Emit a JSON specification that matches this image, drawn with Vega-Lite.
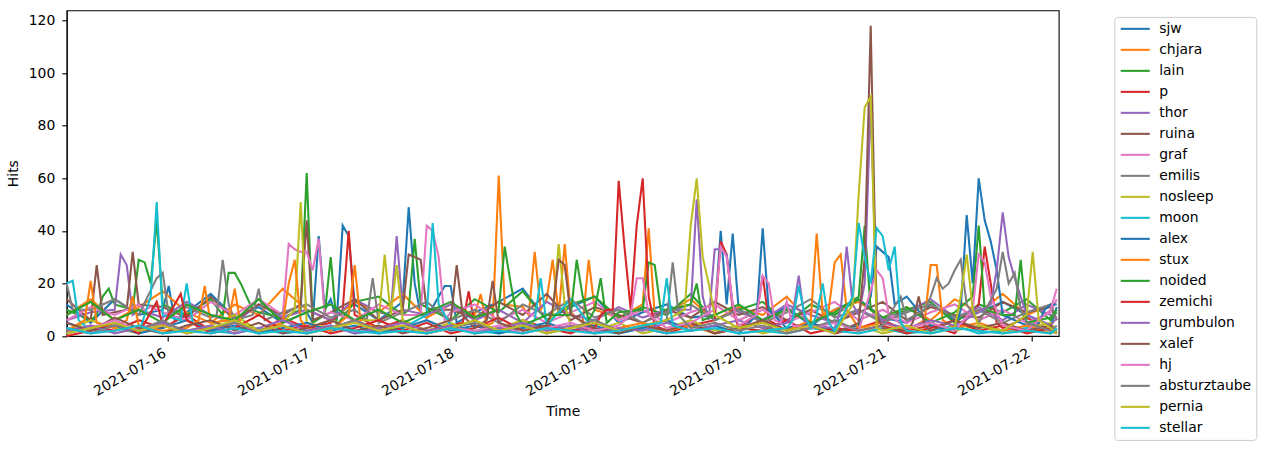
{
"$schema": "https://vega.github.io/schema/vega-lite/v6.json",
"width": 992,
"height": 325.7,
"autosize": {"type": "none"},
"padding": {"left": 66.7, "top": 10.3, "right": 207.3, "bottom": 114},
"background": "white",
"config": {
  "font": "DejaVu Sans",
  "view": {"stroke": "black", "strokeWidth": 1.1},
  "axis": {"grid": false, "domainColor": "black", "domainWidth": 1.1, "tickColor": "black", "tickWidth": 1.1, "tickSize": 4.9, "labelColor": "black", "labelFont": "DejaVu Sans", "labelFontSize": 13.9, "titleColor": "black", "titleFont": "DejaVu Sans", "titleFontSize": 13.9, "titleFontWeight": "normal"},
  "legend": {"orient": "none", "legendX": 1047.6, "legendY": 6.6, "labelFont": "DejaVu Sans", "labelFontSize": 13.9, "labelColor": "black", "symbolType": "M-2.9,0H2.9", "symbolSize": 100, "symbolStrokeWidth": 2.08, "strokeColor": "#cccccc", "fillColor": "white", "cornerRadius": 3, "padding": 5, "rowPadding": 6.0, "labelOffset": 17, "symbolOffset": 9}
},
"data": {"values": [
{"user":"sjw","time":"2021-07-15T07:15","hits":12},{"user":"sjw","time":"2021-07-15T11:15","hits":5},{"user":"sjw","time":"2021-07-15T15:15","hits":14},{"user":"sjw","time":"2021-07-15T19:15","hits":8},{"user":"sjw","time":"2021-07-15T23:15","hits":10},{"user":"sjw","time":"2021-07-16T00:15","hits":19},{"user":"sjw","time":"2021-07-16T01:15","hits":6},{"user":"sjw","time":"2021-07-16T03:15","hits":9},{"user":"sjw","time":"2021-07-16T07:15","hits":16},{"user":"sjw","time":"2021-07-16T11:15","hits":7},{"user":"sjw","time":"2021-07-16T15:15","hits":11},{"user":"sjw","time":"2021-07-16T19:15","hits":5},{"user":"sjw","time":"2021-07-16T23:15","hits":9},{"user":"sjw","time":"2021-07-17T00:15","hits":5},{"user":"sjw","time":"2021-07-17T01:15","hits":38},{"user":"sjw","time":"2021-07-17T02:15","hits":10},{"user":"sjw","time":"2021-07-17T03:15","hits":14},{"user":"sjw","time":"2021-07-17T04:15","hits":6},{"user":"sjw","time":"2021-07-17T05:15","hits":42},{"user":"sjw","time":"2021-07-17T06:15","hits":38},{"user":"sjw","time":"2021-07-17T07:15","hits":12},{"user":"sjw","time":"2021-07-17T11:15","hits":6},{"user":"sjw","time":"2021-07-17T15:15","hits":13},{"user":"sjw","time":"2021-07-17T16:15","hits":49},{"user":"sjw","time":"2021-07-17T17:15","hits":20},{"user":"sjw","time":"2021-07-17T18:15","hits":8},{"user":"sjw","time":"2021-07-17T19:15","hits":7},{"user":"sjw","time":"2021-07-17T22:15","hits":19},{"user":"sjw","time":"2021-07-17T23:15","hits":19},{"user":"sjw","time":"2021-07-18T00:15","hits":5},{"user":"sjw","time":"2021-07-18T03:15","hits":9},{"user":"sjw","time":"2021-07-18T07:15","hits":13},{"user":"sjw","time":"2021-07-18T11:15","hits":18},{"user":"sjw","time":"2021-07-18T15:15","hits":6},{"user":"sjw","time":"2021-07-18T19:15","hits":11},{"user":"sjw","time":"2021-07-18T23:15","hits":15},{"user":"sjw","time":"2021-07-19T03:15","hits":5},{"user":"sjw","time":"2021-07-19T07:15","hits":9},{"user":"sjw","time":"2021-07-19T11:15","hits":12},{"user":"sjw","time":"2021-07-19T15:15","hits":7},{"user":"sjw","time":"2021-07-19T19:15","hits":8},{"user":"sjw","time":"2021-07-19T20:15","hits":40},{"user":"sjw","time":"2021-07-19T21:15","hits":12},{"user":"sjw","time":"2021-07-19T22:15","hits":39},{"user":"sjw","time":"2021-07-19T23:15","hits":10},{"user":"sjw","time":"2021-07-20T03:15","hits":6},{"user":"sjw","time":"2021-07-20T07:15","hits":11},{"user":"sjw","time":"2021-07-20T11:15","hits":4},{"user":"sjw","time":"2021-07-20T15:15","hits":10},{"user":"sjw","time":"2021-07-20T19:15","hits":14},{"user":"sjw","time":"2021-07-20T23:15","hits":7},{"user":"sjw","time":"2021-07-21T03:15","hits":5},{"user":"sjw","time":"2021-07-21T07:15","hits":12},{"user":"sjw","time":"2021-07-21T11:15","hits":6},{"user":"sjw","time":"2021-07-21T15:15","hits":9},{"user":"sjw","time":"2021-07-21T19:15","hits":13},{"user":"sjw","time":"2021-07-21T23:15","hits":8},{"user":"sjw","time":"2021-07-22T03:15","hits":4},{"user":"sjw","time":"2021-07-22T04:15","hits":11},
{"user":"chjara","time":"2021-07-15T07:15","hits":8},{"user":"chjara","time":"2021-07-15T11:15","hits":14},{"user":"chjara","time":"2021-07-15T15:15","hits":6},{"user":"chjara","time":"2021-07-15T19:15","hits":11},{"user":"chjara","time":"2021-07-15T23:15","hits":17},{"user":"chjara","time":"2021-07-16T03:15","hits":9},{"user":"chjara","time":"2021-07-16T07:15","hits":5},{"user":"chjara","time":"2021-07-16T11:15","hits":12},{"user":"chjara","time":"2021-07-16T15:15","hits":8},{"user":"chjara","time":"2021-07-16T19:15","hits":18},{"user":"chjara","time":"2021-07-16T23:15","hits":10},{"user":"chjara","time":"2021-07-17T03:15","hits":6},{"user":"chjara","time":"2021-07-17T07:15","hits":13},{"user":"chjara","time":"2021-07-17T11:15","hits":9},{"user":"chjara","time":"2021-07-17T15:15","hits":16},{"user":"chjara","time":"2021-07-17T19:15","hits":7},{"user":"chjara","time":"2021-07-17T23:15","hits":12},{"user":"chjara","time":"2021-07-18T03:15","hits":8},{"user":"chjara","time":"2021-07-18T04:15","hits":16},{"user":"chjara","time":"2021-07-18T05:15","hits":4},{"user":"chjara","time":"2021-07-18T06:15","hits":5},{"user":"chjara","time":"2021-07-18T07:15","hits":61},{"user":"chjara","time":"2021-07-18T08:15","hits":12},{"user":"chjara","time":"2021-07-18T11:15","hits":11},{"user":"chjara","time":"2021-07-18T12:15","hits":8},{"user":"chjara","time":"2021-07-18T13:15","hits":32},{"user":"chjara","time":"2021-07-18T14:15","hits":10},{"user":"chjara","time":"2021-07-18T15:15","hits":14},{"user":"chjara","time":"2021-07-18T16:15","hits":29},{"user":"chjara","time":"2021-07-18T17:15","hits":8},{"user":"chjara","time":"2021-07-18T18:15","hits":35},{"user":"chjara","time":"2021-07-18T19:15","hits":9},{"user":"chjara","time":"2021-07-18T21:15","hits":5},{"user":"chjara","time":"2021-07-18T22:15","hits":29},{"user":"chjara","time":"2021-07-18T23:15","hits":10},{"user":"chjara","time":"2021-07-19T03:15","hits":7},{"user":"chjara","time":"2021-07-19T07:15","hits":12},{"user":"chjara","time":"2021-07-19T08:15","hits":41},{"user":"chjara","time":"2021-07-19T09:15","hits":8},{"user":"chjara","time":"2021-07-19T11:15","hits":9},{"user":"chjara","time":"2021-07-19T15:15","hits":14},{"user":"chjara","time":"2021-07-19T19:15","hits":6},{"user":"chjara","time":"2021-07-19T23:15","hits":11},{"user":"chjara","time":"2021-07-20T03:15","hits":8},{"user":"chjara","time":"2021-07-20T07:15","hits":15},{"user":"chjara","time":"2021-07-20T11:15","hits":5},{"user":"chjara","time":"2021-07-20T15:15","hits":10},{"user":"chjara","time":"2021-07-20T19:15","hits":13},{"user":"chjara","time":"2021-07-20T23:15","hits":7},{"user":"chjara","time":"2021-07-21T03:15","hits":11},{"user":"chjara","time":"2021-07-21T07:15","hits":6},{"user":"chjara","time":"2021-07-21T11:15","hits":14},{"user":"chjara","time":"2021-07-21T15:15","hits":9},{"user":"chjara","time":"2021-07-21T19:15","hits":16},{"user":"chjara","time":"2021-07-21T23:15","hits":8},{"user":"chjara","time":"2021-07-22T03:15","hits":12},{"user":"chjara","time":"2021-07-22T04:15","hits":6},
{"user":"lain","time":"2021-07-15T07:15","hits":10},{"user":"lain","time":"2021-07-15T11:15","hits":6},{"user":"lain","time":"2021-07-15T12:15","hits":8},{"user":"lain","time":"2021-07-15T13:15","hits":15},{"user":"lain","time":"2021-07-15T14:15","hits":18},{"user":"lain","time":"2021-07-15T15:15","hits":12},{"user":"lain","time":"2021-07-15T18:15","hits":10},{"user":"lain","time":"2021-07-15T19:15","hits":29},{"user":"lain","time":"2021-07-15T20:15","hits":28},{"user":"lain","time":"2021-07-15T21:15","hits":20},{"user":"lain","time":"2021-07-15T22:15","hits":44},{"user":"lain","time":"2021-07-15T23:15","hits":12},{"user":"lain","time":"2021-07-16T03:15","hits":8},{"user":"lain","time":"2021-07-16T07:15","hits":14},{"user":"lain","time":"2021-07-16T09:15","hits":8},{"user":"lain","time":"2021-07-16T10:15","hits":24},{"user":"lain","time":"2021-07-16T11:15","hits":24},{"user":"lain","time":"2021-07-16T12:15","hits":20},{"user":"lain","time":"2021-07-16T13:15","hits":15},{"user":"lain","time":"2021-07-16T14:15","hits":10},{"user":"lain","time":"2021-07-16T15:15","hits":9},{"user":"lain","time":"2021-07-16T19:15","hits":7},{"user":"lain","time":"2021-07-16T22:15","hits":10},{"user":"lain","time":"2021-07-16T23:15","hits":62},{"user":"lain","time":"2021-07-17T00:15","hits":5},{"user":"lain","time":"2021-07-17T02:15","hits":8},{"user":"lain","time":"2021-07-17T03:15","hits":30},{"user":"lain","time":"2021-07-17T04:15","hits":4},{"user":"lain","time":"2021-07-17T07:15","hits":13},{"user":"lain","time":"2021-07-17T11:15","hits":15},{"user":"lain","time":"2021-07-17T15:15","hits":8},{"user":"lain","time":"2021-07-17T16:15","hits":10},{"user":"lain","time":"2021-07-17T17:15","hits":37},{"user":"lain","time":"2021-07-17T18:15","hits":12},{"user":"lain","time":"2021-07-17T19:15","hits":11},{"user":"lain","time":"2021-07-17T23:15","hits":6},{"user":"lain","time":"2021-07-18T03:15","hits":14},{"user":"lain","time":"2021-07-18T07:15","hits":9},{"user":"lain","time":"2021-07-18T11:15","hits":17},{"user":"lain","time":"2021-07-18T15:15","hits":6},{"user":"lain","time":"2021-07-18T19:15","hits":12},{"user":"lain","time":"2021-07-18T23:15","hits":15},{"user":"lain","time":"2021-07-19T03:15","hits":7},{"user":"lain","time":"2021-07-19T07:15","hits":11},{"user":"lain","time":"2021-07-19T11:15","hits":8},{"user":"lain","time":"2021-07-19T15:15","hits":16},{"user":"lain","time":"2021-07-19T19:15","hits":6},{"user":"lain","time":"2021-07-19T23:15","hits":10},{"user":"lain","time":"2021-07-20T03:15","hits":13},{"user":"lain","time":"2021-07-20T07:15","hits":5},{"user":"lain","time":"2021-07-20T11:15","hits":12},{"user":"lain","time":"2021-07-20T15:15","hits":8},{"user":"lain","time":"2021-07-20T19:15","hits":14},{"user":"lain","time":"2021-07-20T23:15","hits":6},{"user":"lain","time":"2021-07-21T03:15","hits":10},{"user":"lain","time":"2021-07-21T07:15","hits":13},{"user":"lain","time":"2021-07-21T11:15","hits":5},{"user":"lain","time":"2021-07-21T15:15","hits":12},{"user":"lain","time":"2021-07-21T19:15","hits":9},{"user":"lain","time":"2021-07-21T23:15","hits":14},{"user":"lain","time":"2021-07-22T03:15","hits":6},{"user":"lain","time":"2021-07-22T04:15","hits":9},
{"user":"p","time":"2021-07-15T07:15","hits":1},{"user":"p","time":"2021-07-15T11:15","hits":4},{"user":"p","time":"2021-07-15T15:15","hits":2},{"user":"p","time":"2021-07-15T19:15","hits":6},{"user":"p","time":"2021-07-15T23:15","hits":3},{"user":"p","time":"2021-07-16T03:15","hits":8},{"user":"p","time":"2021-07-16T07:15","hits":2},{"user":"p","time":"2021-07-16T11:15","hits":5},{"user":"p","time":"2021-07-16T15:15","hits":1},{"user":"p","time":"2021-07-16T19:15","hits":7},{"user":"p","time":"2021-07-16T23:15","hits":3},{"user":"p","time":"2021-07-17T03:15","hits":5},{"user":"p","time":"2021-07-17T05:15","hits":10},{"user":"p","time":"2021-07-17T06:15","hits":40},{"user":"p","time":"2021-07-17T07:15","hits":8},{"user":"p","time":"2021-07-17T11:15","hits":3},{"user":"p","time":"2021-07-17T15:15","hits":6},{"user":"p","time":"2021-07-17T19:15","hits":2},{"user":"p","time":"2021-07-17T23:15","hits":4},{"user":"p","time":"2021-07-18T01:15","hits":5},{"user":"p","time":"2021-07-18T02:15","hits":17},{"user":"p","time":"2021-07-18T03:15","hits":4},{"user":"p","time":"2021-07-18T07:15","hits":2},{"user":"p","time":"2021-07-18T11:15","hits":6},{"user":"p","time":"2021-07-18T15:15","hits":3},{"user":"p","time":"2021-07-18T19:15","hits":1},{"user":"p","time":"2021-07-18T23:15","hits":5},{"user":"p","time":"2021-07-19T03:15","hits":2},{"user":"p","time":"2021-07-19T07:15","hits":3},{"user":"p","time":"2021-07-19T11:15","hits":1},{"user":"p","time":"2021-07-19T15:15","hits":4},{"user":"p","time":"2021-07-19T19:15","hits":6},{"user":"p","time":"2021-07-19T20:15","hits":36},{"user":"p","time":"2021-07-19T21:15","hits":31},{"user":"p","time":"2021-07-19T22:15","hits":10},{"user":"p","time":"2021-07-19T23:15","hits":3},{"user":"p","time":"2021-07-20T02:15","hits":8},{"user":"p","time":"2021-07-20T03:15","hits":23},{"user":"p","time":"2021-07-20T04:15","hits":6},{"user":"p","time":"2021-07-20T07:15","hits":2},{"user":"p","time":"2021-07-20T11:15","hits":5},{"user":"p","time":"2021-07-20T15:15","hits":1},{"user":"p","time":"2021-07-20T19:15","hits":3},{"user":"p","time":"2021-07-20T23:15","hits":6},{"user":"p","time":"2021-07-21T03:15","hits":2},{"user":"p","time":"2021-07-21T07:15","hits":4},{"user":"p","time":"2021-07-21T11:15","hits":1},{"user":"p","time":"2021-07-21T15:15","hits":12},{"user":"p","time":"2021-07-21T16:15","hits":34},{"user":"p","time":"2021-07-21T17:15","hits":20},{"user":"p","time":"2021-07-21T18:15","hits":5},{"user":"p","time":"2021-07-21T19:15","hits":3},{"user":"p","time":"2021-07-21T23:15","hits":7},{"user":"p","time":"2021-07-22T03:15","hits":2},{"user":"p","time":"2021-07-22T04:15","hits":1},
{"user":"thor","time":"2021-07-15T07:15","hits":6},{"user":"thor","time":"2021-07-15T11:15","hits":9},{"user":"thor","time":"2021-07-15T15:15","hits":10},{"user":"thor","time":"2021-07-15T16:15","hits":31},{"user":"thor","time":"2021-07-15T17:15","hits":27},{"user":"thor","time":"2021-07-15T18:15","hits":8},{"user":"thor","time":"2021-07-15T19:15","hits":10},{"user":"thor","time":"2021-07-15T23:15","hits":7},{"user":"thor","time":"2021-07-16T03:15","hits":13},{"user":"thor","time":"2021-07-16T07:15","hits":8},{"user":"thor","time":"2021-07-16T11:15","hits":5},{"user":"thor","time":"2021-07-16T15:15","hits":12},{"user":"thor","time":"2021-07-16T19:15","hits":7},{"user":"thor","time":"2021-07-16T23:15","hits":10},{"user":"thor","time":"2021-07-17T03:15","hits":6},{"user":"thor","time":"2021-07-17T07:15","hits":14},{"user":"thor","time":"2021-07-17T11:15","hits":9},{"user":"thor","time":"2021-07-17T13:15","hits":8},{"user":"thor","time":"2021-07-17T14:15","hits":38},{"user":"thor","time":"2021-07-17T15:15","hits":10},{"user":"thor","time":"2021-07-17T19:15","hits":8},{"user":"thor","time":"2021-07-17T23:15","hits":12},{"user":"thor","time":"2021-07-18T03:15","hits":6},{"user":"thor","time":"2021-07-18T07:15","hits":10},{"user":"thor","time":"2021-07-18T11:15","hits":5},{"user":"thor","time":"2021-07-18T15:15","hits":13},{"user":"thor","time":"2021-07-18T19:15","hits":8},{"user":"thor","time":"2021-07-18T23:15","hits":6},{"user":"thor","time":"2021-07-19T03:15","hits":11},{"user":"thor","time":"2021-07-19T07:15","hits":7},{"user":"thor","time":"2021-07-19T11:15","hits":10},{"user":"thor","time":"2021-07-19T15:15","hits":10},{"user":"thor","time":"2021-07-19T16:15","hits":52},{"user":"thor","time":"2021-07-19T17:15","hits":15},{"user":"thor","time":"2021-07-19T18:15","hits":6},{"user":"thor","time":"2021-07-19T19:15","hits":33},{"user":"thor","time":"2021-07-19T20:15","hits":33},{"user":"thor","time":"2021-07-19T21:15","hits":31},{"user":"thor","time":"2021-07-19T22:15","hits":12},{"user":"thor","time":"2021-07-19T23:15","hits":9},{"user":"thor","time":"2021-07-20T03:15","hits":6},{"user":"thor","time":"2021-07-20T07:15","hits":12},{"user":"thor","time":"2021-07-20T11:15","hits":8},{"user":"thor","time":"2021-07-20T15:15","hits":5},{"user":"thor","time":"2021-07-20T19:15","hits":10},{"user":"thor","time":"2021-07-20T23:15","hits":6},{"user":"thor","time":"2021-07-21T03:15","hits":9},{"user":"thor","time":"2021-07-21T07:15","hits":14},{"user":"thor","time":"2021-07-21T11:15","hits":7},{"user":"thor","time":"2021-07-21T15:15","hits":11},{"user":"thor","time":"2021-07-21T19:15","hits":6},{"user":"thor","time":"2021-07-21T23:15","hits":12},{"user":"thor","time":"2021-07-22T03:15","hits":8},{"user":"thor","time":"2021-07-22T04:15","hits":7},
{"user":"ruina","time":"2021-07-15T07:15","hits":14},{"user":"ruina","time":"2021-07-15T11:15","hits":6},{"user":"ruina","time":"2021-07-15T12:15","hits":27},{"user":"ruina","time":"2021-07-15T13:15","hits":8},{"user":"ruina","time":"2021-07-15T15:15","hits":9},{"user":"ruina","time":"2021-07-15T17:15","hits":10},{"user":"ruina","time":"2021-07-15T18:15","hits":32},{"user":"ruina","time":"2021-07-15T19:15","hits":12},{"user":"ruina","time":"2021-07-15T23:15","hits":11},{"user":"ruina","time":"2021-07-16T03:15","hits":7},{"user":"ruina","time":"2021-07-16T07:15","hits":15},{"user":"ruina","time":"2021-07-16T11:15","hits":6},{"user":"ruina","time":"2021-07-16T15:15","hits":12},{"user":"ruina","time":"2021-07-16T19:15","hits":8},{"user":"ruina","time":"2021-07-16T22:15","hits":12},{"user":"ruina","time":"2021-07-16T23:15","hits":44},{"user":"ruina","time":"2021-07-17T00:15","hits":6},{"user":"ruina","time":"2021-07-17T03:15","hits":9},{"user":"ruina","time":"2021-07-17T07:15","hits":14},{"user":"ruina","time":"2021-07-17T11:15","hits":6},{"user":"ruina","time":"2021-07-17T15:15","hits":10},{"user":"ruina","time":"2021-07-17T16:15","hits":31},{"user":"ruina","time":"2021-07-17T17:15","hits":30},{"user":"ruina","time":"2021-07-17T18:15","hits":29},{"user":"ruina","time":"2021-07-17T19:15","hits":10},{"user":"ruina","time":"2021-07-17T23:15","hits":10},{"user":"ruina","time":"2021-07-18T03:15","hits":7},{"user":"ruina","time":"2021-07-18T07:15","hits":13},{"user":"ruina","time":"2021-07-18T11:15","hits":8},{"user":"ruina","time":"2021-07-18T15:15","hits":16},{"user":"ruina","time":"2021-07-18T19:15","hits":6},{"user":"ruina","time":"2021-07-18T23:15","hits":11},{"user":"ruina","time":"2021-07-19T03:15","hits":8},{"user":"ruina","time":"2021-07-19T07:15","hits":5},{"user":"ruina","time":"2021-07-19T11:15","hits":10},{"user":"ruina","time":"2021-07-19T15:15","hits":7},{"user":"ruina","time":"2021-07-19T19:15","hits":13},{"user":"ruina","time":"2021-07-19T23:15","hits":8},{"user":"ruina","time":"2021-07-20T03:15","hits":11},{"user":"ruina","time":"2021-07-20T07:15","hits":6},{"user":"ruina","time":"2021-07-20T11:15","hits":10},{"user":"ruina","time":"2021-07-20T15:15","hits":5},{"user":"ruina","time":"2021-07-20T19:15","hits":9},{"user":"ruina","time":"2021-07-20T23:15","hits":13},{"user":"ruina","time":"2021-07-21T03:15","hits":6},{"user":"ruina","time":"2021-07-21T07:15","hits":11},{"user":"ruina","time":"2021-07-21T11:15","hits":8},{"user":"ruina","time":"2021-07-21T15:15","hits":7},{"user":"ruina","time":"2021-07-21T19:15","hits":13},{"user":"ruina","time":"2021-07-21T23:15","hits":9},{"user":"ruina","time":"2021-07-22T03:15","hits":11},{"user":"ruina","time":"2021-07-22T04:15","hits":6},
{"user":"graf","time":"2021-07-15T07:15","hits":6},{"user":"graf","time":"2021-07-15T11:15","hits":11},{"user":"graf","time":"2021-07-15T15:15","hits":8},{"user":"graf","time":"2021-07-15T19:15","hits":12},{"user":"graf","time":"2021-07-15T20:15","hits":10},{"user":"graf","time":"2021-07-15T21:15","hits":11},{"user":"graf","time":"2021-07-15T23:15","hits":9},{"user":"graf","time":"2021-07-16T03:15","hits":6},{"user":"graf","time":"2021-07-16T07:15","hits":13},{"user":"graf","time":"2021-07-16T11:15","hits":8},{"user":"graf","time":"2021-07-16T15:15","hits":14},{"user":"graf","time":"2021-07-16T19:15","hits":8},{"user":"graf","time":"2021-07-16T20:15","hits":35},{"user":"graf","time":"2021-07-16T21:15","hits":33},{"user":"graf","time":"2021-07-16T22:15","hits":32},{"user":"graf","time":"2021-07-16T23:15","hits":32},{"user":"graf","time":"2021-07-17T00:15","hits":25},{"user":"graf","time":"2021-07-17T01:15","hits":37},{"user":"graf","time":"2021-07-17T02:15","hits":8},{"user":"graf","time":"2021-07-17T03:15","hits":9},{"user":"graf","time":"2021-07-17T07:15","hits":6},{"user":"graf","time":"2021-07-17T11:15","hits":12},{"user":"graf","time":"2021-07-17T15:15","hits":8},{"user":"graf","time":"2021-07-17T18:15","hits":8},{"user":"graf","time":"2021-07-17T19:15","hits":42},{"user":"graf","time":"2021-07-17T20:15","hits":40},{"user":"graf","time":"2021-07-17T21:15","hits":30},{"user":"graf","time":"2021-07-17T22:15","hits":6},{"user":"graf","time":"2021-07-17T23:15","hits":9},{"user":"graf","time":"2021-07-18T03:15","hits":12},{"user":"graf","time":"2021-07-18T07:15","hits":6},{"user":"graf","time":"2021-07-18T11:15","hits":10},{"user":"graf","time":"2021-07-18T15:15","hits":5},{"user":"graf","time":"2021-07-18T19:15","hits":9},{"user":"graf","time":"2021-07-18T23:15","hits":13},{"user":"graf","time":"2021-07-19T03:15","hits":6},{"user":"graf","time":"2021-07-19T07:15","hits":10},{"user":"graf","time":"2021-07-19T11:15","hits":5},{"user":"graf","time":"2021-07-19T15:15","hits":9},{"user":"graf","time":"2021-07-19T19:15","hits":12},{"user":"graf","time":"2021-07-19T23:15","hits":6},{"user":"graf","time":"2021-07-20T03:15","hits":10},{"user":"graf","time":"2021-07-20T07:15","hits":5},{"user":"graf","time":"2021-07-20T11:15","hits":9},{"user":"graf","time":"2021-07-20T15:15","hits":13},{"user":"graf","time":"2021-07-20T19:15","hits":6},{"user":"graf","time":"2021-07-20T23:15","hits":10},{"user":"graf","time":"2021-07-21T03:15","hits":5},{"user":"graf","time":"2021-07-21T07:15","hits":9},{"user":"graf","time":"2021-07-21T11:15","hits":12},{"user":"graf","time":"2021-07-21T15:15","hits":6},{"user":"graf","time":"2021-07-21T19:15","hits":10},{"user":"graf","time":"2021-07-21T23:15","hits":5},{"user":"graf","time":"2021-07-22T03:15","hits":9},{"user":"graf","time":"2021-07-22T04:15","hits":14},
{"user":"emilis","time":"2021-07-15T07:15","hits":20},{"user":"emilis","time":"2021-07-15T08:15","hits":10},{"user":"emilis","time":"2021-07-15T11:15","hits":10},{"user":"emilis","time":"2021-07-15T15:15","hits":14},{"user":"emilis","time":"2021-07-15T19:15","hits":8},{"user":"emilis","time":"2021-07-15T22:15","hits":22},{"user":"emilis","time":"2021-07-15T23:15","hits":24},{"user":"emilis","time":"2021-07-16T00:15","hits":8},{"user":"emilis","time":"2021-07-16T03:15","hits":11},{"user":"emilis","time":"2021-07-16T07:15","hits":7},{"user":"emilis","time":"2021-07-16T08:15","hits":8},{"user":"emilis","time":"2021-07-16T09:15","hits":29},{"user":"emilis","time":"2021-07-16T10:15","hits":12},{"user":"emilis","time":"2021-07-16T11:15","hits":6},{"user":"emilis","time":"2021-07-16T14:15","hits":8},{"user":"emilis","time":"2021-07-16T15:15","hits":18},{"user":"emilis","time":"2021-07-16T16:15","hits":6},{"user":"emilis","time":"2021-07-16T19:15","hits":9},{"user":"emilis","time":"2021-07-16T23:15","hits":12},{"user":"emilis","time":"2021-07-17T03:15","hits":7},{"user":"emilis","time":"2021-07-17T07:15","hits":10},{"user":"emilis","time":"2021-07-17T09:15","hits":6},{"user":"emilis","time":"2021-07-17T10:15","hits":22},{"user":"emilis","time":"2021-07-17T11:15","hits":5},{"user":"emilis","time":"2021-07-17T15:15","hits":9},{"user":"emilis","time":"2021-07-17T19:15","hits":13},{"user":"emilis","time":"2021-07-17T23:15","hits":6},{"user":"emilis","time":"2021-07-18T03:15","hits":10},{"user":"emilis","time":"2021-07-18T07:15","hits":5},{"user":"emilis","time":"2021-07-18T11:15","hits":12},{"user":"emilis","time":"2021-07-18T15:15","hits":8},{"user":"emilis","time":"2021-07-18T19:15","hits":14},{"user":"emilis","time":"2021-07-18T23:15","hits":7},{"user":"emilis","time":"2021-07-19T03:15","hits":10},{"user":"emilis","time":"2021-07-19T07:15","hits":5},{"user":"emilis","time":"2021-07-19T11:15","hits":9},{"user":"emilis","time":"2021-07-19T15:15","hits":12},{"user":"emilis","time":"2021-07-19T19:15","hits":6},{"user":"emilis","time":"2021-07-19T23:15","hits":10},{"user":"emilis","time":"2021-07-20T03:15","hits":5},{"user":"emilis","time":"2021-07-20T07:15","hits":9},{"user":"emilis","time":"2021-07-20T11:15","hits":14},{"user":"emilis","time":"2021-07-20T15:15","hits":7},{"user":"emilis","time":"2021-07-20T19:15","hits":10},{"user":"emilis","time":"2021-07-20T23:15","hits":5},{"user":"emilis","time":"2021-07-21T03:15","hits":9},{"user":"emilis","time":"2021-07-21T07:15","hits":12},{"user":"emilis","time":"2021-07-21T11:15","hits":7},{"user":"emilis","time":"2021-07-21T15:15","hits":10},{"user":"emilis","time":"2021-07-21T19:15","hits":5},{"user":"emilis","time":"2021-07-21T23:15","hits":9},{"user":"emilis","time":"2021-07-22T03:15","hits":12},{"user":"emilis","time":"2021-07-22T04:15","hits":6},
{"user":"nosleep","time":"2021-07-15T07:15","hits":2},{"user":"nosleep","time":"2021-07-15T11:15","hits":6},{"user":"nosleep","time":"2021-07-15T15:15","hits":3},{"user":"nosleep","time":"2021-07-15T19:15","hits":1},{"user":"nosleep","time":"2021-07-15T23:15","hits":5},{"user":"nosleep","time":"2021-07-16T03:15","hits":2},{"user":"nosleep","time":"2021-07-16T07:15","hits":4},{"user":"nosleep","time":"2021-07-16T11:15","hits":8},{"user":"nosleep","time":"2021-07-16T15:15","hits":2},{"user":"nosleep","time":"2021-07-16T19:15","hits":5},{"user":"nosleep","time":"2021-07-16T21:15","hits":10},{"user":"nosleep","time":"2021-07-16T22:15","hits":51},{"user":"nosleep","time":"2021-07-16T23:15","hits":5},{"user":"nosleep","time":"2021-07-17T03:15","hits":3},{"user":"nosleep","time":"2021-07-17T07:15","hits":6},{"user":"nosleep","time":"2021-07-17T11:15","hits":6},{"user":"nosleep","time":"2021-07-17T12:15","hits":31},{"user":"nosleep","time":"2021-07-17T13:15","hits":8},{"user":"nosleep","time":"2021-07-17T14:15","hits":27},{"user":"nosleep","time":"2021-07-17T15:15","hits":6},{"user":"nosleep","time":"2021-07-17T19:15","hits":2},{"user":"nosleep","time":"2021-07-17T23:15","hits":5},{"user":"nosleep","time":"2021-07-18T03:15","hits":1},{"user":"nosleep","time":"2021-07-18T07:15","hits":3},{"user":"nosleep","time":"2021-07-18T11:15","hits":6},{"user":"nosleep","time":"2021-07-18T15:15","hits":2},{"user":"nosleep","time":"2021-07-18T16:15","hits":8},{"user":"nosleep","time":"2021-07-18T17:15","hits":35},{"user":"nosleep","time":"2021-07-18T18:15","hits":12},{"user":"nosleep","time":"2021-07-18T19:15","hits":4},{"user":"nosleep","time":"2021-07-18T23:15","hits":2},{"user":"nosleep","time":"2021-07-19T03:15","hits":5},{"user":"nosleep","time":"2021-07-19T07:15","hits":1},{"user":"nosleep","time":"2021-07-19T11:15","hits":3},{"user":"nosleep","time":"2021-07-19T15:15","hits":6},{"user":"nosleep","time":"2021-07-19T19:15","hits":2},{"user":"nosleep","time":"2021-07-19T23:15","hits":4},{"user":"nosleep","time":"2021-07-20T03:15","hits":1},{"user":"nosleep","time":"2021-07-20T07:15","hits":3},{"user":"nosleep","time":"2021-07-20T11:15","hits":5},{"user":"nosleep","time":"2021-07-20T15:15","hits":2},{"user":"nosleep","time":"2021-07-20T19:15","hits":4},{"user":"nosleep","time":"2021-07-20T23:15","hits":1},{"user":"nosleep","time":"2021-07-21T03:15","hits":3},{"user":"nosleep","time":"2021-07-21T07:15","hits":5},{"user":"nosleep","time":"2021-07-21T11:15","hits":2},{"user":"nosleep","time":"2021-07-21T15:15","hits":4},{"user":"nosleep","time":"2021-07-21T19:15","hits":1},{"user":"nosleep","time":"2021-07-21T23:15","hits":3},{"user":"nosleep","time":"2021-07-22T03:15","hits":5},{"user":"nosleep","time":"2021-07-22T04:15","hits":2},
{"user":"moon","time":"2021-07-15T07:15","hits":20},{"user":"moon","time":"2021-07-15T08:15","hits":21},{"user":"moon","time":"2021-07-15T09:15","hits":6},{"user":"moon","time":"2021-07-15T11:15","hits":2},{"user":"moon","time":"2021-07-15T15:15","hits":4},{"user":"moon","time":"2021-07-15T19:15","hits":1},{"user":"moon","time":"2021-07-15T21:15","hits":15},{"user":"moon","time":"2021-07-15T22:15","hits":51},{"user":"moon","time":"2021-07-15T23:15","hits":8},{"user":"moon","time":"2021-07-16T02:15","hits":6},{"user":"moon","time":"2021-07-16T03:15","hits":20},{"user":"moon","time":"2021-07-16T04:15","hits":5},{"user":"moon","time":"2021-07-16T07:15","hits":2},{"user":"moon","time":"2021-07-16T11:15","hits":1},{"user":"moon","time":"2021-07-16T15:15","hits":3},{"user":"moon","time":"2021-07-16T19:15","hits":1},{"user":"moon","time":"2021-07-16T23:15","hits":2},{"user":"moon","time":"2021-07-17T03:15","hits":4},{"user":"moon","time":"2021-07-17T07:15","hits":1},{"user":"moon","time":"2021-07-17T11:15","hits":2},{"user":"moon","time":"2021-07-17T15:15","hits":3},{"user":"moon","time":"2021-07-17T19:15","hits":8},{"user":"moon","time":"2021-07-17T20:15","hits":43},{"user":"moon","time":"2021-07-17T21:15","hits":12},{"user":"moon","time":"2021-07-17T23:15","hits":4},{"user":"moon","time":"2021-07-18T03:15","hits":2},{"user":"moon","time":"2021-07-18T07:15","hits":1},{"user":"moon","time":"2021-07-18T11:15","hits":3},{"user":"moon","time":"2021-07-18T13:15","hits":6},{"user":"moon","time":"2021-07-18T14:15","hits":22},{"user":"moon","time":"2021-07-18T15:15","hits":4},{"user":"moon","time":"2021-07-18T19:15","hits":14},{"user":"moon","time":"2021-07-18T23:15","hits":2},{"user":"moon","time":"2021-07-19T03:15","hits":1},{"user":"moon","time":"2021-07-19T07:15","hits":3},{"user":"moon","time":"2021-07-19T11:15","hits":1},{"user":"moon","time":"2021-07-19T15:15","hits":2},{"user":"moon","time":"2021-07-19T19:15","hits":4},{"user":"moon","time":"2021-07-19T23:15","hits":1},{"user":"moon","time":"2021-07-20T03:15","hits":2},{"user":"moon","time":"2021-07-20T07:15","hits":1},{"user":"moon","time":"2021-07-20T11:15","hits":3},{"user":"moon","time":"2021-07-20T15:15","hits":2},{"user":"moon","time":"2021-07-20T19:15","hits":1},{"user":"moon","time":"2021-07-20T23:15","hits":3},{"user":"moon","time":"2021-07-21T03:15","hits":1},{"user":"moon","time":"2021-07-21T07:15","hits":2},{"user":"moon","time":"2021-07-21T11:15","hits":4},{"user":"moon","time":"2021-07-21T15:15","hits":1},{"user":"moon","time":"2021-07-21T19:15","hits":2},{"user":"moon","time":"2021-07-21T23:15","hits":3},{"user":"moon","time":"2021-07-22T03:15","hits":1},{"user":"moon","time":"2021-07-22T04:15","hits":2},
{"user":"alex","time":"2021-07-15T07:15","hits":5},{"user":"alex","time":"2021-07-15T11:15","hits":2},{"user":"alex","time":"2021-07-15T15:15","hits":4},{"user":"alex","time":"2021-07-15T19:15","hits":1},{"user":"alex","time":"2021-07-15T23:15","hits":3},{"user":"alex","time":"2021-07-16T03:15","hits":6},{"user":"alex","time":"2021-07-16T07:15","hits":2},{"user":"alex","time":"2021-07-16T11:15","hits":4},{"user":"alex","time":"2021-07-16T15:15","hits":1},{"user":"alex","time":"2021-07-16T19:15","hits":3},{"user":"alex","time":"2021-07-16T23:15","hits":5},{"user":"alex","time":"2021-07-17T03:15","hits":2},{"user":"alex","time":"2021-07-17T07:15","hits":4},{"user":"alex","time":"2021-07-17T11:15","hits":1},{"user":"alex","time":"2021-07-17T15:15","hits":3},{"user":"alex","time":"2021-07-17T19:15","hits":6},{"user":"alex","time":"2021-07-17T23:15","hits":2},{"user":"alex","time":"2021-07-18T03:15","hits":4},{"user":"alex","time":"2021-07-18T07:15","hits":1},{"user":"alex","time":"2021-07-18T11:15","hits":3},{"user":"alex","time":"2021-07-18T15:15","hits":5},{"user":"alex","time":"2021-07-18T19:15","hits":2},{"user":"alex","time":"2021-07-18T23:15","hits":4},{"user":"alex","time":"2021-07-19T03:15","hits":1},{"user":"alex","time":"2021-07-19T07:15","hits":3},{"user":"alex","time":"2021-07-19T11:15","hits":6},{"user":"alex","time":"2021-07-19T15:15","hits":2},{"user":"alex","time":"2021-07-19T19:15","hits":4},{"user":"alex","time":"2021-07-19T23:15","hits":1},{"user":"alex","time":"2021-07-20T02:15","hits":8},{"user":"alex","time":"2021-07-20T03:15","hits":41},{"user":"alex","time":"2021-07-20T04:15","hits":10},{"user":"alex","time":"2021-07-20T07:15","hits":3},{"user":"alex","time":"2021-07-20T11:15","hits":5},{"user":"alex","time":"2021-07-20T15:15","hits":2},{"user":"alex","time":"2021-07-20T19:15","hits":4},{"user":"alex","time":"2021-07-20T21:15","hits":15},{"user":"alex","time":"2021-07-20T22:15","hits":34},{"user":"alex","time":"2021-07-20T23:15","hits":32},{"user":"alex","time":"2021-07-21T00:15","hits":30},{"user":"alex","time":"2021-07-21T01:15","hits":12},{"user":"alex","time":"2021-07-21T03:15","hits":15},{"user":"alex","time":"2021-07-21T07:15","hits":4},{"user":"alex","time":"2021-07-21T11:15","hits":2},{"user":"alex","time":"2021-07-21T12:15","hits":10},{"user":"alex","time":"2021-07-21T13:15","hits":46},{"user":"alex","time":"2021-07-21T14:15","hits":20},{"user":"alex","time":"2021-07-21T15:15","hits":60},{"user":"alex","time":"2021-07-21T16:15","hits":44},{"user":"alex","time":"2021-07-21T17:15","hits":36},{"user":"alex","time":"2021-07-21T18:15","hits":25},{"user":"alex","time":"2021-07-21T19:15","hits":8},{"user":"alex","time":"2021-07-21T23:15","hits":4},{"user":"alex","time":"2021-07-22T01:15","hits":5},{"user":"alex","time":"2021-07-22T02:15","hits":10},{"user":"alex","time":"2021-07-22T03:15","hits":12},{"user":"alex","time":"2021-07-22T04:15","hits":12},
{"user":"stux","time":"2021-07-15T07:15","hits":2},{"user":"stux","time":"2021-07-15T10:15","hits":6},{"user":"stux","time":"2021-07-15T11:15","hits":21},{"user":"stux","time":"2021-07-15T12:15","hits":5},{"user":"stux","time":"2021-07-15T15:15","hits":3},{"user":"stux","time":"2021-07-15T17:15","hits":6},{"user":"stux","time":"2021-07-15T18:15","hits":15},{"user":"stux","time":"2021-07-15T19:15","hits":4},{"user":"stux","time":"2021-07-15T23:15","hits":2},{"user":"stux","time":"2021-07-16T03:15","hits":3},{"user":"stux","time":"2021-07-16T05:15","hits":6},{"user":"stux","time":"2021-07-16T06:15","hits":19},{"user":"stux","time":"2021-07-16T07:15","hits":5},{"user":"stux","time":"2021-07-16T10:15","hits":6},{"user":"stux","time":"2021-07-16T11:15","hits":18},{"user":"stux","time":"2021-07-16T12:15","hits":4},{"user":"stux","time":"2021-07-16T15:15","hits":2},{"user":"stux","time":"2021-07-16T19:15","hits":5},{"user":"stux","time":"2021-07-16T20:15","hits":20},{"user":"stux","time":"2021-07-16T21:15","hits":29},{"user":"stux","time":"2021-07-16T22:15","hits":6},{"user":"stux","time":"2021-07-16T23:15","hits":3},{"user":"stux","time":"2021-07-17T03:15","hits":2},{"user":"stux","time":"2021-07-17T06:15","hits":8},{"user":"stux","time":"2021-07-17T07:15","hits":27},{"user":"stux","time":"2021-07-17T08:15","hits":5},{"user":"stux","time":"2021-07-17T11:15","hits":3},{"user":"stux","time":"2021-07-17T15:15","hits":5},{"user":"stux","time":"2021-07-17T19:15","hits":2},{"user":"stux","time":"2021-07-17T23:15","hits":4},{"user":"stux","time":"2021-07-18T03:15","hits":1},{"user":"stux","time":"2021-07-18T07:15","hits":3},{"user":"stux","time":"2021-07-18T11:15","hits":5},{"user":"stux","time":"2021-07-18T15:15","hits":2},{"user":"stux","time":"2021-07-18T19:15","hits":4},{"user":"stux","time":"2021-07-18T23:15","hits":1},{"user":"stux","time":"2021-07-19T03:15","hits":3},{"user":"stux","time":"2021-07-19T07:15","hits":5},{"user":"stux","time":"2021-07-19T11:15","hits":2},{"user":"stux","time":"2021-07-19T15:15","hits":4},{"user":"stux","time":"2021-07-19T19:15","hits":1},{"user":"stux","time":"2021-07-19T23:15","hits":3},{"user":"stux","time":"2021-07-20T03:15","hits":5},{"user":"stux","time":"2021-07-20T07:15","hits":2},{"user":"stux","time":"2021-07-20T11:15","hits":6},{"user":"stux","time":"2021-07-20T12:15","hits":39},{"user":"stux","time":"2021-07-20T13:15","hits":8},{"user":"stux","time":"2021-07-20T14:15","hits":10},{"user":"stux","time":"2021-07-20T15:15","hits":28},{"user":"stux","time":"2021-07-20T16:15","hits":31},{"user":"stux","time":"2021-07-20T17:15","hits":10},{"user":"stux","time":"2021-07-20T19:15","hits":3},{"user":"stux","time":"2021-07-20T23:15","hits":5},{"user":"stux","time":"2021-07-21T03:15","hits":2},{"user":"stux","time":"2021-07-21T06:15","hits":6},{"user":"stux","time":"2021-07-21T07:15","hits":27},{"user":"stux","time":"2021-07-21T08:15","hits":27},{"user":"stux","time":"2021-07-21T09:15","hits":6},{"user":"stux","time":"2021-07-21T11:15","hits":3},{"user":"stux","time":"2021-07-21T15:15","hits":5},{"user":"stux","time":"2021-07-21T19:15","hits":2},{"user":"stux","time":"2021-07-21T23:15","hits":4},{"user":"stux","time":"2021-07-22T03:15","hits":1},{"user":"stux","time":"2021-07-22T04:15","hits":3},
{"user":"noided","time":"2021-07-15T07:15","hits":8},{"user":"noided","time":"2021-07-15T11:15","hits":13},{"user":"noided","time":"2021-07-15T15:15","hits":6},{"user":"noided","time":"2021-07-15T19:15","hits":10},{"user":"noided","time":"2021-07-15T23:15","hits":5},{"user":"noided","time":"2021-07-16T03:15","hits":12},{"user":"noided","time":"2021-07-16T07:15","hits":8},{"user":"noided","time":"2021-07-16T11:15","hits":6},{"user":"noided","time":"2021-07-16T15:15","hits":14},{"user":"noided","time":"2021-07-16T19:15","hits":5},{"user":"noided","time":"2021-07-16T23:15","hits":9},{"user":"noided","time":"2021-07-17T03:15","hits":12},{"user":"noided","time":"2021-07-17T07:15","hits":6},{"user":"noided","time":"2021-07-17T11:15","hits":10},{"user":"noided","time":"2021-07-17T15:15","hits":5},{"user":"noided","time":"2021-07-17T19:15","hits":9},{"user":"noided","time":"2021-07-17T23:15","hits":13},{"user":"noided","time":"2021-07-18T03:15","hits":7},{"user":"noided","time":"2021-07-18T07:15","hits":10},{"user":"noided","time":"2021-07-18T08:15","hits":34},{"user":"noided","time":"2021-07-18T09:15","hits":20},{"user":"noided","time":"2021-07-18T10:15","hits":8},{"user":"noided","time":"2021-07-18T11:15","hits":4},{"user":"noided","time":"2021-07-18T15:15","hits":8},{"user":"noided","time":"2021-07-18T19:15","hits":8},{"user":"noided","time":"2021-07-18T20:15","hits":29},{"user":"noided","time":"2021-07-18T21:15","hits":15},{"user":"noided","time":"2021-07-18T22:15","hits":6},{"user":"noided","time":"2021-07-18T23:15","hits":10},{"user":"noided","time":"2021-07-19T00:15","hits":22},{"user":"noided","time":"2021-07-19T01:15","hits":5},{"user":"noided","time":"2021-07-19T03:15","hits":9},{"user":"noided","time":"2021-07-19T07:15","hits":10},{"user":"noided","time":"2021-07-19T08:15","hits":28},{"user":"noided","time":"2021-07-19T09:15","hits":27},{"user":"noided","time":"2021-07-19T10:15","hits":10},{"user":"noided","time":"2021-07-19T11:15","hits":10},{"user":"noided","time":"2021-07-19T15:15","hits":12},{"user":"noided","time":"2021-07-19T16:15","hits":20},{"user":"noided","time":"2021-07-19T17:15","hits":6},{"user":"noided","time":"2021-07-19T19:15","hits":8},{"user":"noided","time":"2021-07-19T23:15","hits":12},{"user":"noided","time":"2021-07-20T03:15","hits":6},{"user":"noided","time":"2021-07-20T07:15","hits":10},{"user":"noided","time":"2021-07-20T11:15","hits":5},{"user":"noided","time":"2021-07-20T15:15","hits":9},{"user":"noided","time":"2021-07-20T19:15","hits":15},{"user":"noided","time":"2021-07-20T20:15","hits":42},{"user":"noided","time":"2021-07-20T21:15","hits":10},{"user":"noided","time":"2021-07-20T23:15","hits":7},{"user":"noided","time":"2021-07-21T03:15","hits":11},{"user":"noided","time":"2021-07-21T07:15","hits":5},{"user":"noided","time":"2021-07-21T11:15","hits":9},{"user":"noided","time":"2021-07-21T14:15","hits":15},{"user":"noided","time":"2021-07-21T15:15","hits":42},{"user":"noided","time":"2021-07-21T16:15","hits":10},{"user":"noided","time":"2021-07-21T19:15","hits":8},{"user":"noided","time":"2021-07-21T21:15","hits":8},{"user":"noided","time":"2021-07-21T22:15","hits":29},{"user":"noided","time":"2021-07-21T23:15","hits":5},{"user":"noided","time":"2021-07-22T03:15","hits":7},{"user":"noided","time":"2021-07-22T04:15","hits":10},
{"user":"zemichi","time":"2021-07-15T07:15","hits":0},{"user":"zemichi","time":"2021-07-15T11:15","hits":2},{"user":"zemichi","time":"2021-07-15T15:15","hits":5},{"user":"zemichi","time":"2021-07-15T19:15","hits":1},{"user":"zemichi","time":"2021-07-15T22:15","hits":13},{"user":"zemichi","time":"2021-07-15T23:15","hits":4},{"user":"zemichi","time":"2021-07-16T02:15","hits":16},{"user":"zemichi","time":"2021-07-16T03:15","hits":6},{"user":"zemichi","time":"2021-07-16T07:15","hits":1},{"user":"zemichi","time":"2021-07-16T11:15","hits":3},{"user":"zemichi","time":"2021-07-16T15:15","hits":8},{"user":"zemichi","time":"2021-07-16T19:15","hits":2},{"user":"zemichi","time":"2021-07-16T23:15","hits":4},{"user":"zemichi","time":"2021-07-17T03:15","hits":1},{"user":"zemichi","time":"2021-07-17T07:15","hits":3},{"user":"zemichi","time":"2021-07-17T11:15","hits":6},{"user":"zemichi","time":"2021-07-17T15:15","hits":2},{"user":"zemichi","time":"2021-07-17T19:15","hits":5},{"user":"zemichi","time":"2021-07-17T23:15","hits":1},{"user":"zemichi","time":"2021-07-18T03:15","hits":3},{"user":"zemichi","time":"2021-07-18T07:15","hits":7},{"user":"zemichi","time":"2021-07-18T11:15","hits":2},{"user":"zemichi","time":"2021-07-18T15:15","hits":4},{"user":"zemichi","time":"2021-07-18T19:15","hits":2},{"user":"zemichi","time":"2021-07-18T23:15","hits":3},{"user":"zemichi","time":"2021-07-19T00:15","hits":8},{"user":"zemichi","time":"2021-07-19T01:15","hits":10},{"user":"zemichi","time":"2021-07-19T02:15","hits":10},{"user":"zemichi","time":"2021-07-19T03:15","hits":59},{"user":"zemichi","time":"2021-07-19T04:15","hits":33},{"user":"zemichi","time":"2021-07-19T05:15","hits":10},{"user":"zemichi","time":"2021-07-19T06:15","hits":42},{"user":"zemichi","time":"2021-07-19T07:15","hits":60},{"user":"zemichi","time":"2021-07-19T08:15","hits":15},{"user":"zemichi","time":"2021-07-19T09:15","hits":4},{"user":"zemichi","time":"2021-07-19T11:15","hits":2},{"user":"zemichi","time":"2021-07-19T15:15","hits":5},{"user":"zemichi","time":"2021-07-19T19:15","hits":1},{"user":"zemichi","time":"2021-07-19T23:15","hits":3},{"user":"zemichi","time":"2021-07-20T03:15","hits":2},{"user":"zemichi","time":"2021-07-20T07:15","hits":6},{"user":"zemichi","time":"2021-07-20T11:15","hits":1},{"user":"zemichi","time":"2021-07-20T15:15","hits":3},{"user":"zemichi","time":"2021-07-20T19:15","hits":2},{"user":"zemichi","time":"2021-07-20T23:15","hits":4},{"user":"zemichi","time":"2021-07-21T03:15","hits":1},{"user":"zemichi","time":"2021-07-21T07:15","hits":3},{"user":"zemichi","time":"2021-07-21T11:15","hits":6},{"user":"zemichi","time":"2021-07-21T15:15","hits":2},{"user":"zemichi","time":"2021-07-21T19:15","hits":4},{"user":"zemichi","time":"2021-07-21T23:15","hits":1},{"user":"zemichi","time":"2021-07-22T03:15","hits":3},{"user":"zemichi","time":"2021-07-22T04:15","hits":1},
{"user":"grumbulon","time":"2021-07-15T07:15","hits":2},{"user":"grumbulon","time":"2021-07-15T11:15","hits":4},{"user":"grumbulon","time":"2021-07-15T15:15","hits":1},{"user":"grumbulon","time":"2021-07-15T19:15","hits":3},{"user":"grumbulon","time":"2021-07-15T23:15","hits":5},{"user":"grumbulon","time":"2021-07-16T03:15","hits":2},{"user":"grumbulon","time":"2021-07-16T07:15","hits":4},{"user":"grumbulon","time":"2021-07-16T11:15","hits":1},{"user":"grumbulon","time":"2021-07-16T15:15","hits":3},{"user":"grumbulon","time":"2021-07-16T19:15","hits":6},{"user":"grumbulon","time":"2021-07-16T23:15","hits":2},{"user":"grumbulon","time":"2021-07-17T03:15","hits":4},{"user":"grumbulon","time":"2021-07-17T07:15","hits":1},{"user":"grumbulon","time":"2021-07-17T11:15","hits":3},{"user":"grumbulon","time":"2021-07-17T15:15","hits":5},{"user":"grumbulon","time":"2021-07-17T19:15","hits":2},{"user":"grumbulon","time":"2021-07-17T23:15","hits":4},{"user":"grumbulon","time":"2021-07-18T03:15","hits":1},{"user":"grumbulon","time":"2021-07-18T07:15","hits":3},{"user":"grumbulon","time":"2021-07-18T11:15","hits":5},{"user":"grumbulon","time":"2021-07-18T15:15","hits":2},{"user":"grumbulon","time":"2021-07-18T19:15","hits":4},{"user":"grumbulon","time":"2021-07-18T23:15","hits":1},{"user":"grumbulon","time":"2021-07-19T03:15","hits":3},{"user":"grumbulon","time":"2021-07-19T07:15","hits":2},{"user":"grumbulon","time":"2021-07-19T11:15","hits":5},{"user":"grumbulon","time":"2021-07-19T15:15","hits":2},{"user":"grumbulon","time":"2021-07-19T19:15","hits":4},{"user":"grumbulon","time":"2021-07-19T23:15","hits":6},{"user":"grumbulon","time":"2021-07-20T03:15","hits":3},{"user":"grumbulon","time":"2021-07-20T07:15","hits":5},{"user":"grumbulon","time":"2021-07-20T08:15","hits":8},{"user":"grumbulon","time":"2021-07-20T09:15","hits":23},{"user":"grumbulon","time":"2021-07-20T10:15","hits":6},{"user":"grumbulon","time":"2021-07-20T11:15","hits":4},{"user":"grumbulon","time":"2021-07-20T15:15","hits":3},{"user":"grumbulon","time":"2021-07-20T16:15","hits":10},{"user":"grumbulon","time":"2021-07-20T17:15","hits":34},{"user":"grumbulon","time":"2021-07-20T18:15","hits":12},{"user":"grumbulon","time":"2021-07-20T19:15","hits":8},{"user":"grumbulon","time":"2021-07-20T20:15","hits":20},{"user":"grumbulon","time":"2021-07-20T21:15","hits":90},{"user":"grumbulon","time":"2021-07-20T22:15","hits":10},{"user":"grumbulon","time":"2021-07-20T23:15","hits":5},{"user":"grumbulon","time":"2021-07-21T03:15","hits":3},{"user":"grumbulon","time":"2021-07-21T07:15","hits":6},{"user":"grumbulon","time":"2021-07-21T11:15","hits":4},{"user":"grumbulon","time":"2021-07-21T15:15","hits":9},{"user":"grumbulon","time":"2021-07-21T17:15","hits":12},{"user":"grumbulon","time":"2021-07-21T18:15","hits":25},{"user":"grumbulon","time":"2021-07-21T19:15","hits":47},{"user":"grumbulon","time":"2021-07-21T20:15","hits":30},{"user":"grumbulon","time":"2021-07-21T21:15","hits":22},{"user":"grumbulon","time":"2021-07-21T22:15","hits":15},{"user":"grumbulon","time":"2021-07-21T23:15","hits":8},{"user":"grumbulon","time":"2021-07-22T03:15","hits":4},{"user":"grumbulon","time":"2021-07-22T04:15","hits":7},
{"user":"xalef","time":"2021-07-15T07:15","hits":5},{"user":"xalef","time":"2021-07-15T11:15","hits":2},{"user":"xalef","time":"2021-07-15T15:15","hits":7},{"user":"xalef","time":"2021-07-15T19:15","hits":3},{"user":"xalef","time":"2021-07-15T23:15","hits":1},{"user":"xalef","time":"2021-07-16T03:15","hits":4},{"user":"xalef","time":"2021-07-16T07:15","hits":6},{"user":"xalef","time":"2021-07-16T11:15","hits":2},{"user":"xalef","time":"2021-07-16T15:15","hits":5},{"user":"xalef","time":"2021-07-16T19:15","hits":1},{"user":"xalef","time":"2021-07-16T23:15","hits":3},{"user":"xalef","time":"2021-07-17T03:15","hits":6},{"user":"xalef","time":"2021-07-17T07:15","hits":2},{"user":"xalef","time":"2021-07-17T11:15","hits":4},{"user":"xalef","time":"2021-07-17T15:15","hits":1},{"user":"xalef","time":"2021-07-17T19:15","hits":3},{"user":"xalef","time":"2021-07-17T23:15","hits":6},{"user":"xalef","time":"2021-07-18T00:15","hits":27},{"user":"xalef","time":"2021-07-18T01:15","hits":8},{"user":"xalef","time":"2021-07-18T03:15","hits":3},{"user":"xalef","time":"2021-07-18T05:15","hits":6},{"user":"xalef","time":"2021-07-18T06:15","hits":21},{"user":"xalef","time":"2021-07-18T07:15","hits":5},{"user":"xalef","time":"2021-07-18T11:15","hits":2},{"user":"xalef","time":"2021-07-18T15:15","hits":4},{"user":"xalef","time":"2021-07-18T16:15","hits":10},{"user":"xalef","time":"2021-07-18T17:15","hits":29},{"user":"xalef","time":"2021-07-18T18:15","hits":27},{"user":"xalef","time":"2021-07-18T19:15","hits":8},{"user":"xalef","time":"2021-07-18T23:15","hits":3},{"user":"xalef","time":"2021-07-19T03:15","hits":1},{"user":"xalef","time":"2021-07-19T07:15","hits":4},{"user":"xalef","time":"2021-07-19T11:15","hits":2},{"user":"xalef","time":"2021-07-19T15:15","hits":5},{"user":"xalef","time":"2021-07-19T19:15","hits":1},{"user":"xalef","time":"2021-07-19T23:15","hits":3},{"user":"xalef","time":"2021-07-20T03:15","hits":6},{"user":"xalef","time":"2021-07-20T07:15","hits":2},{"user":"xalef","time":"2021-07-20T11:15","hits":4},{"user":"xalef","time":"2021-07-20T15:15","hits":1},{"user":"xalef","time":"2021-07-20T19:15","hits":5},{"user":"xalef","time":"2021-07-20T20:15","hits":30},{"user":"xalef","time":"2021-07-20T21:15","hits":118},{"user":"xalef","time":"2021-07-20T22:15","hits":8},{"user":"xalef","time":"2021-07-20T23:15","hits":3},{"user":"xalef","time":"2021-07-21T03:15","hits":2},{"user":"xalef","time":"2021-07-21T04:15","hits":5},{"user":"xalef","time":"2021-07-21T05:15","hits":15},{"user":"xalef","time":"2021-07-21T06:15","hits":4},{"user":"xalef","time":"2021-07-21T07:15","hits":2},{"user":"xalef","time":"2021-07-21T11:15","hits":6},{"user":"xalef","time":"2021-07-21T15:15","hits":3},{"user":"xalef","time":"2021-07-21T19:15","hits":5},{"user":"xalef","time":"2021-07-21T23:15","hits":2},{"user":"xalef","time":"2021-07-22T03:15","hits":4},{"user":"xalef","time":"2021-07-22T04:15","hits":1},
{"user":"hj","time":"2021-07-15T07:15","hits":1},{"user":"hj","time":"2021-07-15T11:15","hits":3},{"user":"hj","time":"2021-07-15T15:15","hits":6},{"user":"hj","time":"2021-07-15T19:15","hits":2},{"user":"hj","time":"2021-07-15T23:15","hits":4},{"user":"hj","time":"2021-07-16T03:15","hits":1},{"user":"hj","time":"2021-07-16T07:15","hits":3},{"user":"hj","time":"2021-07-16T11:15","hits":5},{"user":"hj","time":"2021-07-16T15:15","hits":2},{"user":"hj","time":"2021-07-16T19:15","hits":4},{"user":"hj","time":"2021-07-16T23:15","hits":1},{"user":"hj","time":"2021-07-17T03:15","hits":3},{"user":"hj","time":"2021-07-17T07:15","hits":6},{"user":"hj","time":"2021-07-17T11:15","hits":2},{"user":"hj","time":"2021-07-17T15:15","hits":4},{"user":"hj","time":"2021-07-17T19:15","hits":1},{"user":"hj","time":"2021-07-17T23:15","hits":3},{"user":"hj","time":"2021-07-18T03:15","hits":2},{"user":"hj","time":"2021-07-18T07:15","hits":4},{"user":"hj","time":"2021-07-18T11:15","hits":1},{"user":"hj","time":"2021-07-18T15:15","hits":3},{"user":"hj","time":"2021-07-18T19:15","hits":5},{"user":"hj","time":"2021-07-18T23:15","hits":2},{"user":"hj","time":"2021-07-19T03:15","hits":4},{"user":"hj","time":"2021-07-19T05:15","hits":8},{"user":"hj","time":"2021-07-19T06:15","hits":22},{"user":"hj","time":"2021-07-19T07:15","hits":22},{"user":"hj","time":"2021-07-19T08:15","hits":8},{"user":"hj","time":"2021-07-19T11:15","hits":3},{"user":"hj","time":"2021-07-19T15:15","hits":5},{"user":"hj","time":"2021-07-19T19:15","hits":10},{"user":"hj","time":"2021-07-19T20:15","hits":34},{"user":"hj","time":"2021-07-19T21:15","hits":30},{"user":"hj","time":"2021-07-19T22:15","hits":12},{"user":"hj","time":"2021-07-19T23:15","hits":4},{"user":"hj","time":"2021-07-20T02:15","hits":8},{"user":"hj","time":"2021-07-20T03:15","hits":23},{"user":"hj","time":"2021-07-20T04:15","hits":20},{"user":"hj","time":"2021-07-20T05:15","hits":6},{"user":"hj","time":"2021-07-20T06:15","hits":5},{"user":"hj","time":"2021-07-20T07:15","hits":13},{"user":"hj","time":"2021-07-20T08:15","hits":4},{"user":"hj","time":"2021-07-20T11:15","hits":3},{"user":"hj","time":"2021-07-20T15:15","hits":5},{"user":"hj","time":"2021-07-20T19:15","hits":2},{"user":"hj","time":"2021-07-20T22:15","hits":25},{"user":"hj","time":"2021-07-20T23:15","hits":22},{"user":"hj","time":"2021-07-21T00:15","hits":8},{"user":"hj","time":"2021-07-21T03:15","hits":3},{"user":"hj","time":"2021-07-21T07:15","hits":5},{"user":"hj","time":"2021-07-21T11:15","hits":2},{"user":"hj","time":"2021-07-21T14:15","hits":10},{"user":"hj","time":"2021-07-21T15:15","hits":31},{"user":"hj","time":"2021-07-21T16:15","hits":28},{"user":"hj","time":"2021-07-21T17:15","hits":15},{"user":"hj","time":"2021-07-21T19:15","hits":4},{"user":"hj","time":"2021-07-21T23:15","hits":2},{"user":"hj","time":"2021-07-22T03:15","hits":10},{"user":"hj","time":"2021-07-22T04:15","hits":18},
{"user":"absturztaube","time":"2021-07-15T07:15","hits":3},{"user":"absturztaube","time":"2021-07-15T11:15","hits":1},{"user":"absturztaube","time":"2021-07-15T15:15","hits":4},{"user":"absturztaube","time":"2021-07-15T19:15","hits":2},{"user":"absturztaube","time":"2021-07-15T23:15","hits":6},{"user":"absturztaube","time":"2021-07-16T03:15","hits":1},{"user":"absturztaube","time":"2021-07-16T07:15","hits":3},{"user":"absturztaube","time":"2021-07-16T11:15","hits":5},{"user":"absturztaube","time":"2021-07-16T15:15","hits":2},{"user":"absturztaube","time":"2021-07-16T19:15","hits":4},{"user":"absturztaube","time":"2021-07-16T23:15","hits":1},{"user":"absturztaube","time":"2021-07-17T03:15","hits":3},{"user":"absturztaube","time":"2021-07-17T07:15","hits":6},{"user":"absturztaube","time":"2021-07-17T11:15","hits":2},{"user":"absturztaube","time":"2021-07-17T15:15","hits":4},{"user":"absturztaube","time":"2021-07-17T19:15","hits":1},{"user":"absturztaube","time":"2021-07-17T23:15","hits":3},{"user":"absturztaube","time":"2021-07-18T03:15","hits":5},{"user":"absturztaube","time":"2021-07-18T07:15","hits":2},{"user":"absturztaube","time":"2021-07-18T11:15","hits":4},{"user":"absturztaube","time":"2021-07-18T15:15","hits":1},{"user":"absturztaube","time":"2021-07-18T19:15","hits":3},{"user":"absturztaube","time":"2021-07-18T23:15","hits":6},{"user":"absturztaube","time":"2021-07-19T03:15","hits":2},{"user":"absturztaube","time":"2021-07-19T07:15","hits":4},{"user":"absturztaube","time":"2021-07-19T11:15","hits":6},{"user":"absturztaube","time":"2021-07-19T12:15","hits":28},{"user":"absturztaube","time":"2021-07-19T13:15","hits":8},{"user":"absturztaube","time":"2021-07-19T15:15","hits":3},{"user":"absturztaube","time":"2021-07-19T19:15","hits":5},{"user":"absturztaube","time":"2021-07-19T23:15","hits":2},{"user":"absturztaube","time":"2021-07-20T03:15","hits":4},{"user":"absturztaube","time":"2021-07-20T07:15","hits":1},{"user":"absturztaube","time":"2021-07-20T11:15","hits":3},{"user":"absturztaube","time":"2021-07-20T15:15","hits":6},{"user":"absturztaube","time":"2021-07-20T19:15","hits":2},{"user":"absturztaube","time":"2021-07-20T23:15","hits":4},{"user":"absturztaube","time":"2021-07-21T02:15","hits":15},{"user":"absturztaube","time":"2021-07-21T03:15","hits":6},{"user":"absturztaube","time":"2021-07-21T06:15","hits":10},{"user":"absturztaube","time":"2021-07-21T07:15","hits":15},{"user":"absturztaube","time":"2021-07-21T08:15","hits":22},{"user":"absturztaube","time":"2021-07-21T09:15","hits":18},{"user":"absturztaube","time":"2021-07-21T10:15","hits":20},{"user":"absturztaube","time":"2021-07-21T11:15","hits":25},{"user":"absturztaube","time":"2021-07-21T12:15","hits":29},{"user":"absturztaube","time":"2021-07-21T13:15","hits":12},{"user":"absturztaube","time":"2021-07-21T15:15","hits":5},{"user":"absturztaube","time":"2021-07-21T18:15","hits":18},{"user":"absturztaube","time":"2021-07-21T19:15","hits":32},{"user":"absturztaube","time":"2021-07-21T20:15","hits":20},{"user":"absturztaube","time":"2021-07-21T21:15","hits":24},{"user":"absturztaube","time":"2021-07-21T22:15","hits":10},{"user":"absturztaube","time":"2021-07-21T23:15","hits":5},{"user":"absturztaube","time":"2021-07-22T03:15","hits":2},{"user":"absturztaube","time":"2021-07-22T04:15","hits":4},
{"user":"pernia","time":"2021-07-15T07:15","hits":1},{"user":"pernia","time":"2021-07-15T11:15","hits":3},{"user":"pernia","time":"2021-07-15T15:15","hits":5},{"user":"pernia","time":"2021-07-15T19:15","hits":2},{"user":"pernia","time":"2021-07-15T23:15","hits":4},{"user":"pernia","time":"2021-07-16T03:15","hits":1},{"user":"pernia","time":"2021-07-16T07:15","hits":3},{"user":"pernia","time":"2021-07-16T11:15","hits":6},{"user":"pernia","time":"2021-07-16T15:15","hits":2},{"user":"pernia","time":"2021-07-16T19:15","hits":4},{"user":"pernia","time":"2021-07-16T23:15","hits":1},{"user":"pernia","time":"2021-07-17T03:15","hits":3},{"user":"pernia","time":"2021-07-17T07:15","hits":5},{"user":"pernia","time":"2021-07-17T11:15","hits":2},{"user":"pernia","time":"2021-07-17T15:15","hits":4},{"user":"pernia","time":"2021-07-17T19:15","hits":1},{"user":"pernia","time":"2021-07-17T23:15","hits":3},{"user":"pernia","time":"2021-07-18T03:15","hits":6},{"user":"pernia","time":"2021-07-18T07:15","hits":2},{"user":"pernia","time":"2021-07-18T11:15","hits":4},{"user":"pernia","time":"2021-07-18T15:15","hits":1},{"user":"pernia","time":"2021-07-18T19:15","hits":3},{"user":"pernia","time":"2021-07-18T23:15","hits":5},{"user":"pernia","time":"2021-07-19T03:15","hits":2},{"user":"pernia","time":"2021-07-19T07:15","hits":4},{"user":"pernia","time":"2021-07-19T11:15","hits":6},{"user":"pernia","time":"2021-07-19T14:15","hits":10},{"user":"pernia","time":"2021-07-19T15:15","hits":42},{"user":"pernia","time":"2021-07-19T16:15","hits":60},{"user":"pernia","time":"2021-07-19T17:15","hits":30},{"user":"pernia","time":"2021-07-19T18:15","hits":20},{"user":"pernia","time":"2021-07-19T19:15","hits":8},{"user":"pernia","time":"2021-07-19T23:15","hits":3},{"user":"pernia","time":"2021-07-20T03:15","hits":5},{"user":"pernia","time":"2021-07-20T07:15","hits":2},{"user":"pernia","time":"2021-07-20T11:15","hits":4},{"user":"pernia","time":"2021-07-20T15:15","hits":1},{"user":"pernia","time":"2021-07-20T18:15","hits":12},{"user":"pernia","time":"2021-07-20T19:15","hits":54},{"user":"pernia","time":"2021-07-20T20:15","hits":87},{"user":"pernia","time":"2021-07-20T21:15","hits":91},{"user":"pernia","time":"2021-07-20T22:15","hits":3},{"user":"pernia","time":"2021-07-20T23:15","hits":2},{"user":"pernia","time":"2021-07-21T03:15","hits":4},{"user":"pernia","time":"2021-07-21T07:15","hits":1},{"user":"pernia","time":"2021-07-21T11:15","hits":3},{"user":"pernia","time":"2021-07-21T12:15","hits":15},{"user":"pernia","time":"2021-07-21T13:15","hits":31},{"user":"pernia","time":"2021-07-21T14:15","hits":10},{"user":"pernia","time":"2021-07-21T15:15","hits":4},{"user":"pernia","time":"2021-07-21T19:15","hits":2},{"user":"pernia","time":"2021-07-21T23:15","hits":8},{"user":"pernia","time":"2021-07-22T00:15","hits":32},{"user":"pernia","time":"2021-07-22T01:15","hits":6},{"user":"pernia","time":"2021-07-22T03:15","hits":3},{"user":"pernia","time":"2021-07-22T04:15","hits":1},
{"user":"stellar","time":"2021-07-15T07:15","hits":3},{"user":"stellar","time":"2021-07-15T11:15","hits":1},{"user":"stellar","time":"2021-07-15T15:15","hits":2},{"user":"stellar","time":"2021-07-15T19:15","hits":4},{"user":"stellar","time":"2021-07-15T23:15","hits":1},{"user":"stellar","time":"2021-07-16T03:15","hits":2},{"user":"stellar","time":"2021-07-16T07:15","hits":1},{"user":"stellar","time":"2021-07-16T11:15","hits":3},{"user":"stellar","time":"2021-07-16T15:15","hits":1},{"user":"stellar","time":"2021-07-16T19:15","hits":2},{"user":"stellar","time":"2021-07-16T23:15","hits":1},{"user":"stellar","time":"2021-07-17T03:15","hits":3},{"user":"stellar","time":"2021-07-17T07:15","hits":2},{"user":"stellar","time":"2021-07-17T11:15","hits":1},{"user":"stellar","time":"2021-07-17T15:15","hits":2},{"user":"stellar","time":"2021-07-17T19:15","hits":1},{"user":"stellar","time":"2021-07-17T23:15","hits":3},{"user":"stellar","time":"2021-07-18T03:15","hits":1},{"user":"stellar","time":"2021-07-18T07:15","hits":2},{"user":"stellar","time":"2021-07-18T11:15","hits":1},{"user":"stellar","time":"2021-07-18T15:15","hits":3},{"user":"stellar","time":"2021-07-18T19:15","hits":2},{"user":"stellar","time":"2021-07-18T23:15","hits":1},{"user":"stellar","time":"2021-07-19T03:15","hits":2},{"user":"stellar","time":"2021-07-19T07:15","hits":4},{"user":"stellar","time":"2021-07-19T10:15","hits":5},{"user":"stellar","time":"2021-07-19T11:15","hits":22},{"user":"stellar","time":"2021-07-19T12:15","hits":4},{"user":"stellar","time":"2021-07-19T15:15","hits":2},{"user":"stellar","time":"2021-07-19T19:15","hits":3},{"user":"stellar","time":"2021-07-19T23:15","hits":1},{"user":"stellar","time":"2021-07-20T03:15","hits":2},{"user":"stellar","time":"2021-07-20T07:15","hits":3},{"user":"stellar","time":"2021-07-20T08:15","hits":6},{"user":"stellar","time":"2021-07-20T09:15","hits":19},{"user":"stellar","time":"2021-07-20T10:15","hits":8},{"user":"stellar","time":"2021-07-20T11:15","hits":3},{"user":"stellar","time":"2021-07-20T12:15","hits":8},{"user":"stellar","time":"2021-07-20T13:15","hits":20},{"user":"stellar","time":"2021-07-20T14:15","hits":5},{"user":"stellar","time":"2021-07-20T15:15","hits":2},{"user":"stellar","time":"2021-07-20T18:15","hits":15},{"user":"stellar","time":"2021-07-20T19:15","hits":43},{"user":"stellar","time":"2021-07-20T20:15","hits":30},{"user":"stellar","time":"2021-07-20T21:15","hits":20},{"user":"stellar","time":"2021-07-20T22:15","hits":41},{"user":"stellar","time":"2021-07-20T23:15","hits":38},{"user":"stellar","time":"2021-07-21T00:15","hits":25},{"user":"stellar","time":"2021-07-21T01:15","hits":34},{"user":"stellar","time":"2021-07-21T02:15","hits":5},{"user":"stellar","time":"2021-07-21T03:15","hits":2},{"user":"stellar","time":"2021-07-21T07:15","hits":1},{"user":"stellar","time":"2021-07-21T11:15","hits":3},{"user":"stellar","time":"2021-07-21T15:15","hits":2},{"user":"stellar","time":"2021-07-21T19:15","hits":1},{"user":"stellar","time":"2021-07-21T23:15","hits":2},{"user":"stellar","time":"2021-07-22T03:15","hits":1},{"user":"stellar","time":"2021-07-22T04:15","hits":3}
]},
"mark": {"type": "line", "strokeWidth": 2.08},
"encoding": {
  "x": {"field": "time", "type": "temporal", "title": "Time",
        "scale": {"domain": [{"year": 2021, "month": 7, "date": 15, "hours": 7, "minutes": 15}, {"year": 2021, "month": 7, "date": 22, "hours": 4, "minutes": 35}], "nice": false},
        "axis": {"format": "%Y-%m-%d", "labelAngle": -30, "labelOffset": -6, "labelPadding": 4.9, "tickCount": {"interval": "day", "step": 1}, "titlePadding": 6}},
  "y": {"field": "hits", "type": "quantitative", "title": "Hits",
        "scale": {"domain": [0, 123.9], "nice": false},
        "axis": {"values": [0, 20, 40, 60, 80, 100, 120], "labelPadding": 7, "titlePadding": 8}},
  "color": {"field": "user", "type": "nominal",
            "scale": {"domain": ["sjw", "chjara", "lain", "p", "thor", "ruina", "graf", "emilis", "nosleep", "moon", "alex", "stux", "noided", "zemichi", "grumbulon", "xalef", "hj", "absturztaube", "pernia", "stellar"],
                      "range": ["#1f77b4", "#ff7f0e", "#2ca02c", "#d62728", "#9467bd", "#8c564b", "#e377c2", "#7f7f7f", "#bcbd22", "#17becf", "#1f77b4", "#ff7f0e", "#2ca02c", "#d62728", "#9467bd", "#8c564b", "#e377c2", "#7f7f7f", "#bcbd22", "#17becf"]},
            "legend": {"title": null}}
}
}
